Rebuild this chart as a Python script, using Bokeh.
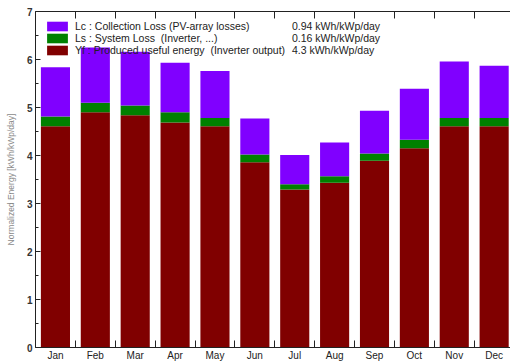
import numpy as np
from bokeh.plotting import figure
from bokeh.models import (ColumnDataSource, Range1d, FixedTicker, SingleIntervalTicker,
                          LinearAxis, Legend, LegendItem, Label)
from bokeh.embed import file_html
from bokeh.resources import INLINE

months = ["Jan", "Feb", "Mar", "Apr", "May", "Jun", "Jul", "Aug", "Sep", "Oct", "Nov", "Dec"]
# Yf : produced useful energy (kWh/kWp/day)
yf = [4.61, 4.90, 4.84, 4.69, 4.61, 3.86, 3.29, 3.43, 3.89, 4.15, 4.61, 4.61]
# Ls : system loss
ls = [0.20, 0.20, 0.20, 0.21, 0.17, 0.16, 0.11, 0.14, 0.15, 0.18, 0.17, 0.17]
# Lc : collection loss
lc = [1.03, 1.15, 1.12, 1.03, 0.98, 0.75, 0.61, 0.70, 0.89, 1.06, 1.18, 1.09]

legend_labels = ["Lc : Collection Loss (PV-array losses)",
                 "Ls : System Loss  (Inverter, ...)",
                 "Yf : Produced useful energy  (Inverter output)"]
legend_values = ["0.94 kWh/kWp/day", "0.16 kWh/kWp/day", "4.3 kWh/kWp/day"]

RED = "#800000"
GREEN = "#008000"
PURPLE = "#8000ff"

x = np.arange(1, len(months) + 1)
yf_top = np.array(yf)
ls_top = yf_top + np.array(ls)
lc_top = ls_top + np.array(lc)
src = ColumnDataSource(dict(x=x, zero=np.zeros(len(x)), yf_top=yf_top,
                            ls_top=ls_top, lc_top=lc_top))

p = figure(width=510, height=363, output_backend="svg", toolbar_location=None,
           x_range=Range1d(0.5, 12.41), y_range=Range1d(0, 7),
           min_border_left=35, min_border_right=0, min_border_top=11, min_border_bottom=15)
p.outline_line_color = None
p.xgrid.visible = False
p.ygrid.visible = False
p.background_fill_color = "white"

bw = 0.73
r_yf = p.vbar(x="x", bottom="zero", top="yf_top", width=bw, source=src,
              fill_color=RED, line_color=None)
r_ls = p.vbar(x="x", bottom="yf_top", top="ls_top", width=bw, source=src,
              fill_color=GREEN, line_color=None)
r_lc = p.vbar(x="x", bottom="ls_top", top="lc_top", width=bw, source=src,
              fill_color=PURPLE, line_color=None)

legend = Legend(items=[LegendItem(label=legend_labels[0], renderers=[r_lc]),
                       LegendItem(label=legend_labels[1], renderers=[r_ls]),
                       LegendItem(label=legend_labels[2], renderers=[r_yf])],
                location="top_left", margin=9, padding=0, spacing=0,
                glyph_height=12, glyph_width=26, label_height=12, label_standoff=5,
                label_text_font_size="10.5px", label_text_font="Liberation Sans",
                label_text_color="#222222", border_line_color=None,
                background_fill_alpha=0, level="underlay")
p.add_layout(legend)

for txt, yy in zip(legend_values, [6.69, 6.44, 6.19]):
    p.add_layout(Label(x=6.93, y=yy, text=txt, text_baseline="middle",
                       text_font="Liberation Sans", text_font_size="10.5px",
                       text_color="#222222"))

month_ticks = list(x)
bounds = [m + 0.5 for m in month_ticks[:-1]]

# bottom axis: labels at month centres, ticks at month boundaries
xa = p.xaxis[0]
xa.ticker = FixedTicker(ticks=month_ticks, minor_ticks=bounds)
xa.major_label_overrides = {int(m): name for m, name in zip(month_ticks, months)}
xa.major_tick_in = 0
xa.major_tick_out = 0
xa.minor_tick_in = 7
xa.minor_tick_out = 0
xa.minor_tick_line_color = "#222222"
xa.axis_line_color = "#222222"
xa.major_label_standoff = 2
xa.major_label_text_font = "Liberation Sans"
xa.major_label_text_font_size = "10px"
xa.major_label_text_color = "#222222"

# top axis: boundary ticks only
ta = LinearAxis(ticker=FixedTicker(ticks=[], minor_ticks=bounds))
ta.major_tick_in = 0
ta.major_tick_out = 0
ta.minor_tick_in = 7
ta.minor_tick_out = 0
ta.minor_tick_line_color = "#222222"
ta.axis_line_color = "#222222"
ta.major_label_standoff = 0
p.add_layout(ta, "above")

# left axis
ya = p.yaxis[0]
ya.ticker = SingleIntervalTicker(interval=1, num_minor_ticks=2)
ya.major_tick_in = 5
ya.major_tick_out = 0
ya.minor_tick_in = 3
ya.minor_tick_out = 0
ya.major_tick_line_color = "#222222"
ya.minor_tick_line_color = "#222222"
ya.axis_line_color = "#222222"
ya.major_label_standoff = 3
ya.major_label_text_font = "Liberation Sans"
ya.major_label_text_font_style = "bold"
ya.major_label_text_font_size = "10px"
ya.major_label_text_color = "#333333"
ya.axis_label = "Normalized Energy [kWh/kWp/day]"
ya.axis_label_text_font = "Liberation Sans"
ya.axis_label_text_font_style = "normal"
ya.axis_label_text_font_size = "8.5px"
ya.axis_label_text_color = "#8a8a8a"
ya.axis_label_standoff = 8

open("out.html", "w").write(file_html(p, INLINE))
